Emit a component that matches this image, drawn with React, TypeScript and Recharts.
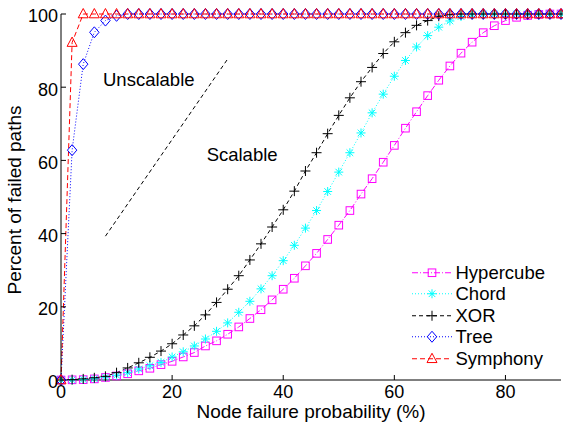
import React from 'react';
import { LineChart, Line, XAxis, YAxis, ReferenceLine, ReferenceDot, Legend } from 'recharts';

const failureProb = [0, 2, 4, 6, 8, 10, 12, 14, 16, 18, 20, 22, 24, 26, 28, 30, 32, 34, 36, 38, 40, 42, 44, 46, 48, 50, 52, 54, 56, 58, 60, 62, 64, 66, 68, 70, 72, 74, 76, 78, 80, 82, 84, 86, 88, 90];
const hypercube = [0, 0.05, 0.1, 0.3, 0.7, 1.1, 1.7, 2.5, 3.2, 4.2, 5.1, 6.3, 7.5, 9.3, 10.7, 12.5, 14.5, 16.8, 19.2, 21.9, 24.8, 27.8, 31.2, 34.6, 38.4, 42.3, 46.3, 50.8, 55, 59.5, 64.1, 68.8, 73.3, 77.7, 81.9, 85.8, 89.3, 92.3, 94.9, 96.8, 98.2, 99.1, 99.6, 99.9, 100, 100];
const chord = [0, 0.05, 0.15, 0.35, 0.8, 1.3, 2.0, 3.0, 3.9, 4.8, 6.3, 7.7, 9.3, 11.2, 13.3, 15.6, 18.5, 21.5, 24.9, 28.5, 32.6, 36.8, 41.5, 46.3, 51.5, 56.8, 62.1, 67.5, 73, 78.1, 83, 87.3, 91, 94.1, 96.4, 98.1, 99.3, 99.8, 100, 100, 100, 100, 100, 100, 100, 100];
const xor = [0, 0.1, 0.3, 0.6, 1.0, 2.0, 3.3, 4.7, 6.2, 7.9, 9.9, 12.3, 14.8, 17.8, 21.2, 24.8, 28.5, 32.8, 37.2, 41.8, 46.5, 51.6, 57.1, 62.1, 67.3, 72.3, 77.1, 81.5, 85.4, 89.2, 92.4, 94.9, 96.9, 98.2, 99.4, 99.8, 100, 100, 100, 100, 100, 100, 100, 100, 100, 100];
const tree = [0, 62.8, 86.3, 95, 98.2, 99.5, 100, 100, 100, 100, 100, 100, 100, 100, 100, 100, 100, 100, 100, 100, 100, 100, 100, 100, 100, 100, 100, 100, 100, 100, 100, 100, 100, 100, 100, 100, 100, 100, 100, 100, 100, 100, 100, 100, 100, 100];
const symphony = [0, 92.2, 100, 100, 100, 100, 100, 100, 100, 100, 100, 100, 100, 100, 100, 100, 100, 100, 100, 100, 100, 100, 100, 100, 100, 100, 100, 100, 100, 100, 100, 100, 100, 100, 100, 100, 100, 100, 100, 100, 100, 100, 100, 100, 100, 100];

const xTicks = [0, 20, 40, 60, 80];
const yTicks = [0, 20, 40, 60, 80, 100];
const seriesNames = ['Hypercube', 'Chord', 'XOR', 'Tree', 'Symphony'];

const data = failureProb.map((x, i) => ({
  x,
  hypercube: hypercube[i],
  chord: chord[i],
  xor: xor[i],
  tree: tree[i],
  symphony: symphony[i],
}));

const FONT = '"Liberation Sans", Arial, Helvetica, sans-serif';

const MAGENTA = '#ff00ff';
const CYAN = '#00ffff';
const BLUE = '#0000ff';
const RED = '#ff0000';
const BLACK = '#000000';

type MarkerKind = 'square' | 'asterisk' | 'plus' | 'diamond' | 'triangle';

function Marker({ kind, cx, cy, color }: { kind: MarkerKind; cx: number; cy: number; color: string }) {
  switch (kind) {
    case 'square':
      return <rect x={cx - 3.8} y={cy - 3.8} width={7.6} height={7.6} fill="none" stroke={color} strokeWidth={1} />;
    case 'asterisk':
      return (
        <g stroke={color} strokeWidth={1}>
          <line x1={cx - 4.5} y1={cy} x2={cx + 4.5} y2={cy} />
          <line x1={cx} y1={cy - 4.5} x2={cx} y2={cy + 4.5} />
          <line x1={cx - 3.3} y1={cy - 3.3} x2={cx + 3.3} y2={cy + 3.3} />
          <line x1={cx - 3.3} y1={cy + 3.3} x2={cx + 3.3} y2={cy - 3.3} />
        </g>
      );
    case 'plus':
      return (
        <g stroke={color} strokeWidth={1}>
          <line x1={cx - 5} y1={cy} x2={cx + 5} y2={cy} />
          <line x1={cx} y1={cy - 5} x2={cx} y2={cy + 5} />
        </g>
      );
    case 'diamond':
      return (
        <polygon
          points={`${cx},${cy - 5.5} ${cx + 4.7},${cy} ${cx},${cy + 5.5} ${cx - 4.7},${cy}`}
          fill="none"
          stroke={color}
          strokeWidth={1}
        />
      );
    case 'triangle':
      return (
        <polygon
          points={`${cx},${cy - 5.5} ${cx + 5},${cy + 3.8} ${cx - 5},${cy + 3.8}`}
          fill="none"
          stroke={color}
          strokeWidth={1}
        />
      );
  }
  return null;
}

const makeDot = (kind: MarkerKind, color: string) => (props: any) => {
  const { cx, cy, index } = props;
  if (cx == null || cy == null) return <g key={`d-${kind}-${index}`} />;
  return (
    <g key={`d-${kind}-${index}`}>
      <Marker kind={kind} cx={cx} cy={cy} color={color} />
    </g>
  );
};

const seriesStyle: { key: string; color: string; dash: string; marker: MarkerKind }[] = [
  { key: 'hypercube', color: MAGENTA, dash: '6 2 1 2', marker: 'square' },
  { key: 'chord', color: CYAN, dash: '1 2', marker: 'asterisk' },
  { key: 'xor', color: BLACK, dash: '4 3', marker: 'plus' },
  { key: 'tree', color: BLUE, dash: '1 2', marker: 'diamond' },
  { key: 'symphony', color: RED, dash: '5 3', marker: 'triangle' },
];

const renderLegend = () => (
  <div style={{ fontFamily: FONT, fontSize: 18.5, color: '#000' }}>
    {seriesNames.map((name, i) => {
      const s = seriesStyle[i];
      return (
        <div key={name} style={{ display: 'flex', alignItems: 'center', height: 21.5 }}>
          <svg width={50} height={21.5} style={{ display: 'block' }}>
            <line x1={6} y1={10.75} x2={46} y2={10.75} stroke={s.color} strokeWidth={1} strokeDasharray={s.dash} />
            <Marker kind={s.marker} cx={26} cy={10.75} color={s.color} />
          </svg>
          <span style={{ lineHeight: '21.5px', whiteSpace: 'nowrap' }}>{name}</span>
        </div>
      );
    })}
  </div>
);

const noTick = () => <g />;

const YLabel = (props: any) => {
  const vb = props.viewBox || { y: 14, height: 366 };
  const cy = vb.y + vb.height / 2 + 3;
  const x = 21;
  return (
    <text
      x={x}
      y={cy}
      transform={`rotate(-90, ${x}, ${cy})`}
      textAnchor="middle"
      fontSize={19}
      fontFamily={FONT}
      fill="#000"
    >
      Percent of failed paths
    </text>
  );
};

export default function App() {
  return (
    <div style={{ position: 'absolute', left: 0, top: 0, width: 563, height: 426, background: '#fff' }}>
      <LineChart width={563} height={426} data={data} margin={{ top: 14, right: 2, bottom: 0, left: 0 }}>
        <XAxis
          dataKey="x"
          type="number"
          domain={[0, 90]}
          ticks={xTicks}
          stroke="#000"
          tickSize={-5}
          tickMargin={10}
          height={46}
          tick={{ fill: '#000', fontSize: 18, fontFamily: FONT }}
          label={{ value: 'Node failure probability (%)', position: 'insideBottom', offset: 8, fill: '#000', fontSize: 19, fontFamily: FONT }}
        />
        <XAxis
          xAxisId="top"
          orientation="top"
          type="number"
          dataKey="x"
          domain={[0, 90]}
          ticks={xTicks}
          allowDataOverflow
          stroke="#000"
          tickSize={-5}
          height={0}
          tick={noTick}
        />
        <YAxis
          type="number"
          domain={[0, 100]}
          ticks={yTicks}
          stroke="#000"
          tickSize={-5}
          tickMargin={8}
          width={61}
          tick={{ fill: '#000', fontSize: 18, fontFamily: FONT, dy: 2 }}
          label={<YLabel />}
        />
        <YAxis
          yAxisId="right"
          orientation="right"
          type="number"
          domain={[0, 100]}
          ticks={yTicks}
          allowDataOverflow
          stroke="#000"
          tickSize={-5}
          width={0}
          tick={noTick}
        />
        <ReferenceLine
          segment={[{ x: 8, y: 39.3 }, { x: 30, y: 87.7 }]}
          stroke="#000"
          strokeWidth={1}
          strokeDasharray="4 3"
        />
        <ReferenceDot
          x={15.8}
          y={82}
          r={0}
          fill="none"
          stroke="none"
          label={{ value: 'Unscalable', position: 'center', fill: '#000', fontSize: 18.5, fontFamily: FONT }}
        />
        <ReferenceDot
          x={32.6}
          y={61.6}
          r={0}
          fill="none"
          stroke="none"
          label={{ value: 'Scalable', position: 'center', fill: '#000', fontSize: 18.5, fontFamily: FONT }}
        />
        {seriesStyle.map((s, i) => (
          <Line
            key={s.key}
            name={seriesNames[i]}
            dataKey={s.key}
            type="linear"
            stroke={s.color}
            strokeWidth={1}
            strokeDasharray={s.dash}
            dot={makeDot(s.marker, s.color)}
            activeDot={false}
            isAnimationActive={false}
          />
        ))}
        <Legend
          layout="horizontal"
          verticalAlign="middle"
          align="center"
          content={renderLegend}
          wrapperStyle={{ position: 'absolute', left: 405.5, top: 261.5, width: 160, height: 110 }}
        />
      </LineChart>
    </div>
  );
}
